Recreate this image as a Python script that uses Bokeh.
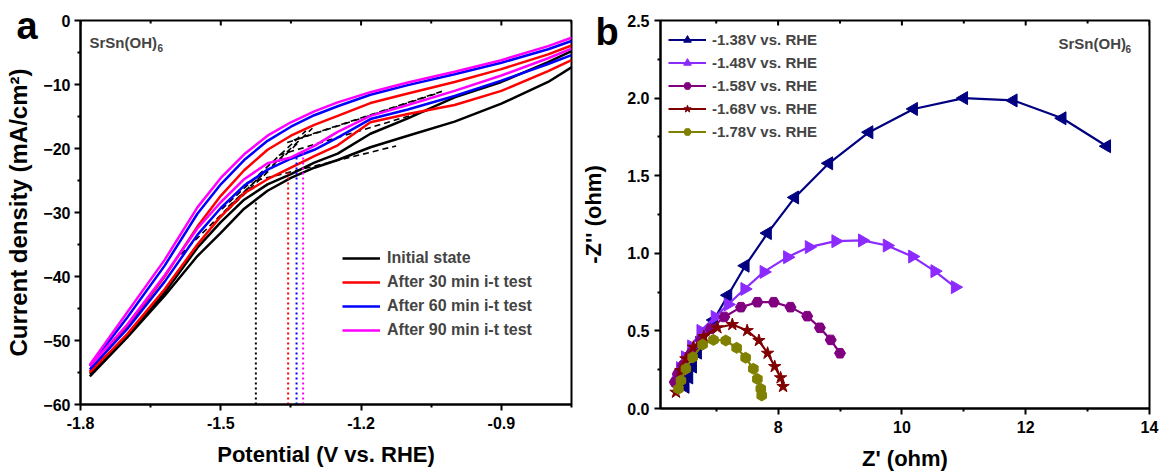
import numpy as np
from bokeh.plotting import figure
from bokeh.models import (FixedTicker, Label, Legend, LegendItem, Title,
                          Range1d, NumeralTickFormatter)
from bokeh.layouts import row
from bokeh.embed import file_html
from bokeh.resources import INLINE

FONT = "Liberation Sans"

# ---------------- Panel a data: LSV curves (two sweeps per state) ----------------
lsv_x = [-1.78, -1.70, -1.62, -1.55, -1.50, -1.45, -1.40, -1.35, -1.30, -1.25,
         -1.18, -1.10, -1.00, -0.90, -0.80, -0.75]
init_upper = [-55.2, -49.3, -42.5, -35.5, -31.5, -28.0, -25.6, -24.0, -22.2, -20.8,
              -17.7, -15.3, -12.0, -9.6, -6.5, -4.8]
init_lower = [-55.6, -49.5, -43.0, -36.8, -33.2, -29.4, -26.6, -24.6, -23.0, -21.8,
              -19.8, -18.0, -15.8, -13.0, -9.6, -7.3]
m30_upper = [-54.8, -47.8, -40.0, -32.2, -27.4, -23.4, -20.2, -18.0, -16.3, -14.9,
             -12.9, -11.4, -9.6, -7.6, -5.3, -3.9]
m30_lower = [-55.0, -49.0, -42.0, -35.0, -30.6, -27.0, -24.8, -23.0, -21.2, -19.5,
             -15.9, -14.6, -13.2, -11.0, -7.9, -6.2]
m60_upper = [-54.0, -46.4, -38.3, -30.2, -25.6, -21.8, -18.8, -16.6, -14.8, -13.4,
             -11.6, -10.1, -8.4, -6.6, -4.5, -3.2]
m60_lower = [-54.5, -48.2, -40.8, -33.5, -29.3, -25.8, -23.3, -21.6, -20.2, -18.3,
             -15.4, -13.9, -11.8, -9.4, -6.8, -5.4]
m90_upper = [-53.8, -45.6, -37.4, -29.2, -24.6, -20.9, -18.0, -15.9, -14.2, -12.8,
             -11.2, -9.7, -8.0, -6.2, -4.0, -2.7]
m90_lower = [-54.0, -47.5, -39.8, -32.5, -28.4, -24.8, -22.3, -21.4, -19.6, -17.4,
             -14.9, -13.2, -11.0, -8.6, -5.9, -4.4]

states = ["Initial state", "After 30 min i-t test", "After 60 min i-t test",
          "After 90 min i-t test"]
state_colors = ["#000000", "#FF0000", "#0000FF", "#FF00FF"]

# onset potentials (dotted markers up to the curve) and tangent-line crossings
knee_x = [-1.425, -1.356, -1.338, -1.324]
knee_y = [-28.0, -23.4, -21.1, -20.8]
cross_y = [-25.0, -20.6, -18.6, -18.2]
steep_slope = [72, 70, 68, 68]
shallow_slope = [18, 22, 24, 24]

# ---------------- Panel b data: Nyquist plots ----------------
z_138_re = [6.50, 6.56, 6.62, 6.70, 6.78, 6.96, 7.19, 7.47, 7.83, 8.27, 8.82, 9.47,
            10.19, 11.00, 11.80, 12.59, 13.31]
z_138_im = [0.14, 0.20, 0.27, 0.36, 0.46, 0.57, 0.73, 0.92, 1.13, 1.36, 1.58, 1.78,
            1.93, 2.00, 1.985, 1.87, 1.69]
z_148_re = [6.36, 6.42, 6.50, 6.60, 6.75, 6.98, 7.19, 7.46, 7.77, 8.15, 8.50, 8.93,
            9.36, 9.76, 10.17, 10.53, 10.86]
z_148_im = [0.18, 0.26, 0.33, 0.40, 0.50, 0.59, 0.67, 0.77, 0.88, 0.975, 1.04, 1.078,
            1.083, 1.05, 0.979, 0.885, 0.782]
z_158_re = [6.33, 6.38, 6.46, 6.59, 6.75, 6.91, 7.13, 7.40, 7.665, 7.93, 8.20, 8.47,
            8.675, 8.85, 9.00]
z_158_im = [0.17, 0.224, 0.277, 0.354, 0.438, 0.513, 0.59, 0.653, 0.685, 0.685, 0.653,
            0.595, 0.52, 0.442, 0.356]
z_168_re = [6.35, 6.43, 6.51, 6.63, 6.80, 7.02, 7.26, 7.50, 7.69, 7.83, 7.945, 8.04, 8.08]
z_168_im = [0.105, 0.245, 0.32, 0.395, 0.464, 0.52, 0.541, 0.502, 0.438, 0.356, 0.27,
            0.198, 0.142]
z_178_re = [6.39, 6.43, 6.51, 6.62, 6.78, 6.955, 7.155, 7.33, 7.475, 7.60, 7.665, 7.72,
            7.735]
z_178_im = [0.127, 0.18, 0.256, 0.33, 0.412, 0.442, 0.438, 0.391, 0.327, 0.256, 0.19,
            0.127, 0.084]

eis_labels = ["-1.38V vs. RHE", "-1.48V vs. RHE", "-1.58V vs. RHE", "-1.68V vs. RHE",
              "-1.78V vs. RHE"]
eis_colors = ["#000080", "#8B2BFF", "#800080", "#800000", "#808000"]
eis_markers = ["triangle", "triangle", "hex", "star", "hex"]
eis_angles = [np.pi / 2, -np.pi / 2, 0.0, 0.0, np.pi / 2]
eis_sizes = [13, 13, 11, 13, 11]

# ticks
a_xticks = [-1.8, -1.5, -1.2, -0.9]
a_xminor = [-1.65, -1.35, -1.05, -0.75]
a_yticks = [0, -10, -20, -30, -40, -50, -60]
a_yminor = [-5, -15, -25, -35, -45, -55]
b_xticks = [8, 10, 12, 14]
b_xminor = [7, 9, 11, 13]
b_yticks = [0, 0.5, 1.0, 1.5, 2.0, 2.5]
b_yminor = [0.25, 0.75, 1.25, 1.75, 2.25]


def style_axis(ax, size="16px", title_size="22px"):
    ax.axis_line_width = 2
    ax.axis_line_color = "black"
    ax.major_tick_line_width = 2
    ax.minor_tick_line_width = 2
    ax.major_tick_out = 6
    ax.major_tick_in = 0
    ax.minor_tick_out = 3
    ax.minor_tick_in = 0
    ax.major_label_text_font = FONT
    ax.major_label_text_font_style = "bold"
    ax.major_label_text_font_size = size
    ax.major_label_text_color = "black"
    ax.axis_label_text_font = FONT
    ax.axis_label_text_font_style = "bold"
    ax.axis_label_text_font_size = title_size
    ax.axis_label_text_color = "black"


def top_ticks(p, majors, minors, ytop, major_len, minor_len):
    # small inward ticks along the top frame edge (Origin style)
    p.segment(x0=majors, y0=[ytop] * len(majors), x1=majors,
              y1=[ytop - major_len] * len(majors), line_color="black", line_width=2)
    p.segment(x0=minors, y0=[ytop] * len(minors), x1=minors,
              y1=[ytop - minor_len] * len(minors), line_color="black", line_width=2)


def panel_letter(p, letter, offset, standoff):
    t = Title(text=letter, align="left", offset=offset, standoff=standoff,
              text_font=FONT, text_font_style="bold", text_font_size="38px",
              text_color="black", vertical_align="bottom")
    p.add_layout(t, "above")


# ================= Panel a =================
pa = figure(frame_width=491, frame_height=384, min_border_left=80, min_border_right=7,
            min_border_top=20, min_border_bottom=60, output_backend="svg",
            toolbar_location=None, x_range=Range1d(-1.8, -0.75), y_range=Range1d(-60, 0))
pa.xgrid.visible = False
pa.ygrid.visible = False
pa.outline_line_color = "black"
pa.outline_line_width = 2

pa.xaxis.ticker = FixedTicker(ticks=a_xticks, minor_ticks=a_xminor)
pa.yaxis.ticker = FixedTicker(ticks=a_yticks, minor_ticks=a_yminor)
pa.xaxis.formatter = NumeralTickFormatter(format="0.0")
style_axis(pa.xaxis[0], title_size="22px")
style_axis(pa.yaxis[0], title_size="24px")
pa.xaxis.axis_label = "Potential (V vs. RHE)"
pa.yaxis.axis_label = "Current density (mA/cm²)"
pa.xaxis.major_label_standoff = 6
pa.xaxis.axis_label_standoff = 10
pa.yaxis.major_label_standoff = 4
pa.yaxis.axis_label_standoff = 8
top_ticks(pa, a_xticks, a_xminor, 0, 0.8, 0.45)

# dashed tangent lines (drawn beneath the measured curves)
for kx, cy, s1, s2 in zip(knee_x, cross_y, steep_slope, shallow_slope):
    xs1 = np.array([kx - 0.16, kx + 0.02])
    pa.line(xs1, cy + s1 * (xs1 - kx), line_color="black", line_width=1.6,
            line_dash="6 4")
    xs2 = np.array([kx - 0.02, kx + 0.30])
    pa.line(xs2, cy + s2 * (xs2 - kx), line_color="black", line_width=1.6,
            line_dash="6 4")

curves = [(init_upper, init_lower), (m30_upper, m30_lower),
          (m60_upper, m60_lower), (m90_upper, m90_lower)]
items_a = []
for (up, lo), col, lab in zip(curves, state_colors, states):
    r1 = pa.line(lsv_x, up, line_color=col, line_width=2.5)
    pa.line(lsv_x, lo, line_color=col, line_width=2.5)
    items_a.append(LegendItem(label=lab, renderers=[r1]))

# dotted vertical markers
for kx, ky, col in zip(knee_x, knee_y, state_colors):
    pa.line([kx, kx], [-60, ky], line_color=col, line_width=2, line_dash="2 3")

leg_a = Legend(items=items_a, location=(262, 64), glyph_width=38, glyph_height=20,
               label_height=20, spacing=4, padding=5, label_standoff=7,
               label_text_font=FONT, label_text_font_style="bold",
               label_text_font_size="16px", border_line_color=None,
               background_fill_alpha=0)
pa.add_layout(leg_a, "center")

panel_letter(pa, "a", -64, -52)
pa.add_layout(Label(x=9, y=362, x_units="screen", y_units="screen", text="SrSn(OH)",
                    text_font=FONT, text_font_style="bold", text_font_size="15px",
                    text_baseline="alphabetic"))
pa.add_layout(Label(x=77, y=357, x_units="screen", y_units="screen", text="6",
                    text_font=FONT, text_font_style="bold", text_font_size="10px",
                    text_baseline="alphabetic"))

# ================= Panel b =================
pb = figure(frame_width=489, frame_height=388, min_border_left=81, min_border_right=12,
            min_border_top=20, min_border_bottom=56, output_backend="svg",
            toolbar_location=None, x_range=Range1d(6.1, 14), y_range=Range1d(0, 2.5))
pb.xgrid.visible = False
pb.ygrid.visible = False
pb.outline_line_color = "black"
pb.outline_line_width = 2

pb.xaxis.ticker = FixedTicker(ticks=b_xticks, minor_ticks=b_xminor)
pb.yaxis.ticker = FixedTicker(ticks=b_yticks, minor_ticks=b_yminor)
pb.yaxis.formatter = NumeralTickFormatter(format="0.0")
style_axis(pb.xaxis[0])
style_axis(pb.yaxis[0])
pb.xaxis.axis_label = "Z' (ohm)"
pb.yaxis.axis_label = "-Z'' (ohm)"
pb.xaxis.major_label_standoff = 6
pb.xaxis.axis_label_standoff = 10
pb.yaxis.major_label_standoff = 5
pb.yaxis.axis_label_standoff = 18
top_ticks(pb, b_xticks, b_xminor, 2.5, 0.033, 0.02)

series = [(z_138_re, z_138_im), (z_148_re, z_148_im), (z_158_re, z_158_im),
          (z_168_re, z_168_im), (z_178_re, z_178_im)]
items_b = []
for (zr, zi), col, mk, ang, sz, lab in zip(series, eis_colors, eis_markers, eis_angles,
                                          eis_sizes, eis_labels):
    rl = pb.line(zr, zi, line_color=col, line_width=2.2)
    rs = pb.scatter(zr, zi, marker=mk, angle=ang, size=sz, fill_color=col,
                    line_color=col)
    items_b.append(LegendItem(label=lab, renderers=[rl, rs]))

leg_b = Legend(items=items_b, location=(8, 267), glyph_width=38, glyph_height=19,
               label_height=19, spacing=4, padding=5, label_standoff=6,
               label_text_font=FONT, label_text_font_style="bold",
               label_text_font_size="15px", border_line_color=None,
               background_fill_alpha=0)
pb.add_layout(leg_b, "center")

panel_letter(pb, "b", -65, -64)
pb.add_layout(Label(x=398, y=365, x_units="screen", y_units="screen", text="SrSn(OH)",
                    text_font=FONT, text_font_style="bold", text_font_size="15px",
                    text_baseline="alphabetic"))
pb.add_layout(Label(x=465, y=360, x_units="screen", y_units="screen", text="6",
                    text_font=FONT, text_font_style="bold", text_font_size="10px",
                    text_baseline="alphabetic"))

layout = row(pa, pb)
open("out.html", "w").write(file_html(layout, INLINE))
